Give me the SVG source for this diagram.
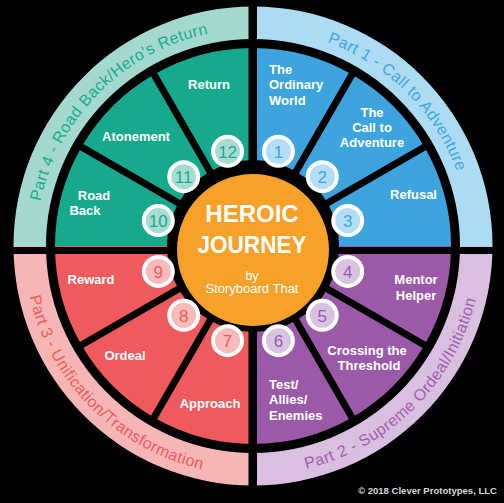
<svg xmlns="http://www.w3.org/2000/svg" width="504" height="503" viewBox="0 0 504 503">
<style>
.lbl{font-family:"Liberation Sans",Arial,sans-serif;font-weight:bold;font-size:13px;fill:#ffffff}
.num{font-family:"Liberation Sans",Arial,sans-serif;font-size:17px;text-anchor:middle}
.part{font-family:"Liberation Sans",Arial,sans-serif;font-size:16px;letter-spacing:0.4px}
.teal{fill:#17a98b}.blue{fill:#3da4de}.purple{fill:#9b5aa8}.red{fill:#ef5a5d}
.bteal{fill:#a4d9d0}.bblue{fill:#abdcf4}.bpurple{fill:#d9c0e1}.bred{fill:#f6b6b6}
.ring{stroke:#ffffff;stroke-width:4}
.div{stroke:#000;stroke-width:7}
</style>
<defs>
<path id="arc1" d="M253,29 A217,217 0 0 1 470,246"/>
<path id="arc4" d="M36,246 A217,217 0 0 1 253,29"/>
<path id="arc2" d="M253,475 A229,229 0 0 0 482,246"/>
<path id="arc3" d="M24,246 A229,229 0 0 0 253,475"/>
</defs>
<rect x="0" y="0" width="504" height="503" fill="#000"/>

<g id="bands">
<path class="bblue" d="M253,6.5 A239.5,239.5 0 0 1 492.5,246 L460,246 A207,207 0 0 0 253,39 Z"/>
<path class="bpurple" d="M492.5,246 A239.5,239.5 0 0 1 253,485.5 L253,453 A207,207 0 0 0 460,246 Z"/>
<path class="bred" d="M253,485.5 A239.5,239.5 0 0 1 13.5,246 L46,246 A207,207 0 0 0 253,453 Z"/>
<path class="bteal" d="M13.5,246 A239.5,239.5 0 0 1 253,6.5 L253,39 A207,207 0 0 0 46,246 Z"/>
</g>

<g id="part1"><text class="part" fill="#3fa5de"><textPath href="#arc1" startOffset="50%" text-anchor="middle">Part 1 - Call to Adventure</textPath></text></g>
<g id="part2"><text class="part" fill="#9d5fab"><textPath href="#arc2" startOffset="50%" text-anchor="middle">Part 2 - Supreme Ordeal/Initiation</textPath></text></g>
<g id="part3"><text class="part" fill="#ee5b5e"><textPath href="#arc3" startOffset="50%" text-anchor="middle">Part 3 - Unification/Transformation</textPath></text></g>
<g id="part4"><text class="part" fill="#1aa98c"><textPath href="#arc4" startOffset="50%" text-anchor="middle">Part 4 - Road Back/Hero's Return</textPath></text></g>

<g id="seg1"><path class="blue" d="M253,48 A198,198 0 0 1 352,74.53 L296,171.52 A86,86 0 0 0 253,160 Z"/></g>
<g id="seg2"><path class="blue" d="M352,74.53 A198,198 0 0 1 424.47,147 L327.48,203 A86,86 0 0 0 296,171.52 Z"/></g>
<g id="seg3"><path class="blue" d="M424.47,147 A198,198 0 0 1 451,246 L339,246 A86,86 0 0 0 327.48,203 Z"/></g>
<g id="seg4"><path class="purple" d="M451,246 A198,198 0 0 1 424.47,345 L327.48,289 A86,86 0 0 0 339,246 Z"/></g>
<g id="seg5"><path class="purple" d="M424.47,345 A198,198 0 0 1 352,417.47 L296,320.48 A86,86 0 0 0 327.48,289 Z"/></g>
<g id="seg6"><path class="purple" d="M352,417.47 A198,198 0 0 1 253,444 L253,332 A86,86 0 0 0 296,320.48 Z"/></g>
<g id="seg7"><path class="red" d="M253,444 A198,198 0 0 1 154,417.47 L210,320.48 A86,86 0 0 0 253,332 Z"/></g>
<g id="seg8"><path class="red" d="M154,417.47 A198,198 0 0 1 81.53,345 L178.52,289 A86,86 0 0 0 210,320.48 Z"/></g>
<g id="seg9"><path class="red" d="M81.53,345 A198,198 0 0 1 55,246 L167,246 A86,86 0 0 0 178.52,289 Z"/></g>
<g id="seg10"><path class="teal" d="M55,246 A198,198 0 0 1 81.53,147 L178.52,203 A86,86 0 0 0 167,246 Z"/></g>
<g id="seg11"><path class="teal" d="M81.53,147 A198,198 0 0 1 154,74.53 L210,171.52 A86,86 0 0 0 178.52,203 Z"/></g>
<g id="seg12"><path class="teal" d="M154,74.53 A198,198 0 0 1 253,48 L253,160 A86,86 0 0 0 210,171.52 Z"/></g>

<g id="connectors">
<line class="div" x1="293" y1="176.7" x2="356" y2="67.6"/>
<line class="div" x1="322.3" y1="206" x2="431.4" y2="143"/>
<line class="div" x1="322.3" y1="286" x2="431.4" y2="349"/>
<line class="div" x1="293" y1="315.3" x2="356" y2="424.4"/>
<line class="div" x1="213" y1="315.3" x2="150" y2="424.4"/>
<line class="div" x1="183.7" y1="286" x2="74.6" y2="349"/>
<line class="div" x1="183.7" y1="206" x2="74.6" y2="143"/>
<line class="div" x1="213" y1="176.7" x2="150" y2="67.6"/>
<rect x="248.5" y="0" width="8.5" height="503" fill="#000"/>
<rect x="0" y="247" width="504" height="7" fill="#000"/>
</g>

<g id="center">
<circle cx="253" cy="250" r="76" fill="#f7a128"/>
<text x="252" y="222" font-family="'Liberation Sans',Arial,sans-serif" font-weight="bold" font-size="24" fill="#fff" text-anchor="middle">HEROIC</text>
<text x="252" y="253" font-family="'Liberation Sans',Arial,sans-serif" font-weight="bold" font-size="24" fill="#fff" text-anchor="middle" textLength="109" lengthAdjust="spacingAndGlyphs">JOURNEY</text>
<text x="252" y="280" font-family="'Liberation Sans',Arial,sans-serif" font-size="13" fill="#fff" text-anchor="middle">by</text>
<text x="252" y="293" font-family="'Liberation Sans',Arial,sans-serif" font-size="13" fill="#fff" text-anchor="middle">Storyboard That</text>
</g>

<g id="n1"><circle class="ring" cx="278.4" cy="151.3" r="14.5" fill="#b3def5"/><text class="num" x="278.4" y="157.5" fill="#3da4de">1</text></g>
<g id="n2"><circle class="ring" cx="322.3" cy="176.7" r="14.5" fill="#b3def5"/><text class="num" x="322.3" y="182.9" fill="#3da4de">2</text></g>
<g id="n3"><circle class="ring" cx="347.7" cy="220.6" r="14.5" fill="#b3def5"/><text class="num" x="347.7" y="226.8" fill="#3da4de">3</text></g>
<g id="n4"><circle class="ring" cx="347.7" cy="271.4" r="14.5" fill="#d9c3e2"/><text class="num" x="347.7" y="277.6" fill="#9b5aa8">4</text></g>
<g id="n5"><circle class="ring" cx="322.3" cy="315.3" r="14.5" fill="#d9c3e2"/><text class="num" x="322.3" y="321.5" fill="#9b5aa8">5</text></g>
<g id="n6"><circle class="ring" cx="278.4" cy="340.7" r="14.5" fill="#d9c3e2"/><text class="num" x="278.4" y="346.9" fill="#9b5aa8">6</text></g>
<g id="n7"><circle class="ring" cx="227.6" cy="340.7" r="14.5" fill="#f7bbba"/><text class="num" x="227.6" y="346.9" fill="#ef5a5d">7</text></g>
<g id="n8"><circle class="ring" cx="183.7" cy="315.3" r="14.5" fill="#f7bbba"/><text class="num" x="183.7" y="321.5" fill="#ef5a5d">8</text></g>
<g id="n9"><circle class="ring" cx="158.3" cy="271.4" r="14.5" fill="#f7bbba"/><text class="num" x="158.3" y="277.6" fill="#ef5a5d">9</text></g>
<g id="n10"><circle class="ring" cx="158.3" cy="220.6" r="14.5" fill="#a7dcd3"/><text class="num" x="158.3" y="226.8" fill="#17a98b">10</text></g>
<g id="n11"><circle class="ring" cx="183.7" cy="176.7" r="14.5" fill="#a7dcd3"/><text class="num" x="183.7" y="182.9" fill="#17a98b">11</text></g>
<g id="n12"><circle class="ring" cx="227.6" cy="151.3" r="14.5" fill="#a7dcd3"/><text class="num" x="227.6" y="157.5" fill="#17a98b">12</text></g>

<g id="labels">
<text class="lbl" x="269" y="74">The</text>
<text class="lbl" x="269" y="88.5">Ordinary</text>
<text class="lbl" x="269" y="105">World</text>
<text class="lbl" x="372" y="116.7" text-anchor="middle">The</text>
<text class="lbl" x="372" y="131.7" text-anchor="middle">Call to</text>
<text class="lbl" x="372" y="147.3" text-anchor="middle">Adventure</text>
<text class="lbl" x="413.5" y="199.3" text-anchor="middle">Refusal</text>
<text class="lbl" x="416" y="284.3" text-anchor="middle">Mentor</text>
<text class="lbl" x="416" y="300.3" text-anchor="middle">Helper</text>
<text class="lbl" x="367" y="354.7" text-anchor="middle">Crossing the</text>
<text class="lbl" x="369" y="370.3" text-anchor="middle">Threshold</text>
<text class="lbl" x="269" y="388.7">Test/</text>
<text class="lbl" x="269" y="404.3">Allies/</text>
<text class="lbl" x="269" y="420.3">Enemies</text>
<text class="lbl" x="210" y="408" text-anchor="middle">Approach</text>
<text class="lbl" x="125" y="360.3" text-anchor="middle">Ordeal</text>
<text class="lbl" x="91" y="284.3" text-anchor="middle">Reward</text>
<text class="lbl" x="94" y="199.5" text-anchor="middle">Road</text>
<text class="lbl" x="85" y="215" text-anchor="middle">Back</text>
<text class="lbl" x="136" y="141" text-anchor="middle">Atonement</text>
<text class="lbl" x="209" y="89" text-anchor="middle">Return</text>
</g>

<text x="497" y="494" font-family="'Liberation Sans',Arial,sans-serif" font-weight="bold" font-size="9.5" fill="#d8d8d8" text-anchor="end" textLength="139" lengthAdjust="spacingAndGlyphs">© 2018 Clever Prototypes, LLC</text>
</svg>
